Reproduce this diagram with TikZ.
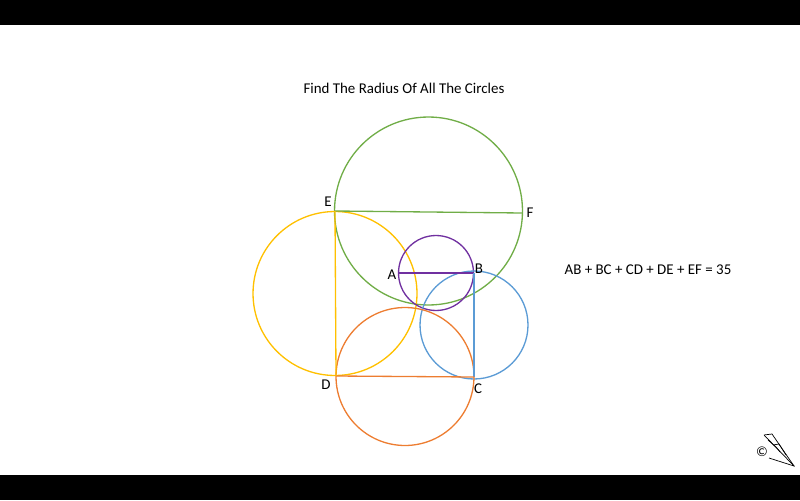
\documentclass[tikz,border=0pt]{standalone}
\usepackage{fontspec}
\setmainfont{Carlito}
\usepackage{tikz}
\usetikzlibrary{positioning,calc}
\definecolor{cgreen}{RGB}{112,173,71}
\definecolor{cyellow}{RGB}{255,192,0}
\definecolor{cpurple}{RGB}{112,48,160}
\definecolor{cblue}{RGB}{91,155,213}
\definecolor{corange}{RGB}{237,125,49}
\tikzset{
  rim/.style={line width=0.75pt},
  lbl/.style={inner sep=0pt, font=\fontsize{8.5}{10}\selectfont}
}

\begin{document}
\begin{tikzpicture}[x=0.02cm, y=-0.02cm]
    \useasboundingbox (0,0) rectangle (800,500);
    \fill[black] (0,0) rectangle (800,25);
    \fill[black] (0,475) rectangle (800,500);
    % title and equation
    \node[lbl] (title) at (404,88) {Find The Radius Of All The Circles};
    \node[lbl] (eqn) at (648,270) {AB + BC + CD + DE + EF = 35};
    % points
    \coordinate (E) at (335,211);
    \coordinate (F) at (522,213);
    \coordinate (A) at (398,273);
    \coordinate (B) at (474,273);
    \coordinate (C) at (474,377);
    \coordinate (D) at (336,376);
    % circles
    \draw[rim, cgreen] (428.5,211) circle[radius=1.88cm];
    \draw[rim, cyellow] (335,293.5) circle[radius=1.64cm];
    \draw[rim, cpurple] (436,273) circle[radius=0.75cm];
    \draw[rim, cblue] (474,325) circle[radius=1.08cm];
    \draw[rim, corange] (405,376.5) circle[radius=1.38cm];
    % chords
    \draw[rim, cgreen] (E) -- (F);
    \draw[rim, cpurple] (A) -- (B);
    \draw[rim, cblue] (B) -- (C);
    \draw[rim, corange] (C) -- (D);
    \draw[rim, cyellow] (D) -- (E);
    % labels
    \node[lbl] (lE) at (328,202) {E};
    \node[lbl] (lF) at (530,213) {F};
    \node[lbl] (lA) at (392,275) {A};
    \node[lbl] (lB) at (479,269) {B};
    \node[lbl] (lC) at (478,389) {C};
    \node[lbl] (lD) at (326,385) {D};
    % logo
    \draw[line width=0.4pt] (764,435) -- (772,434) -- (794,466) -- (769,458);
    \draw[line width=0.4pt] (764,435) -- (794,466);
    \draw[line width=0.4pt] (768,440) -- (776,447) -- (780,452) (773,445) -- (779,444) -- (786,455);
    \node[inner sep=0pt, font=\fontsize{8}{9}\selectfont] (logo) at (762,452) {©};
\end{tikzpicture}
\end{document}
